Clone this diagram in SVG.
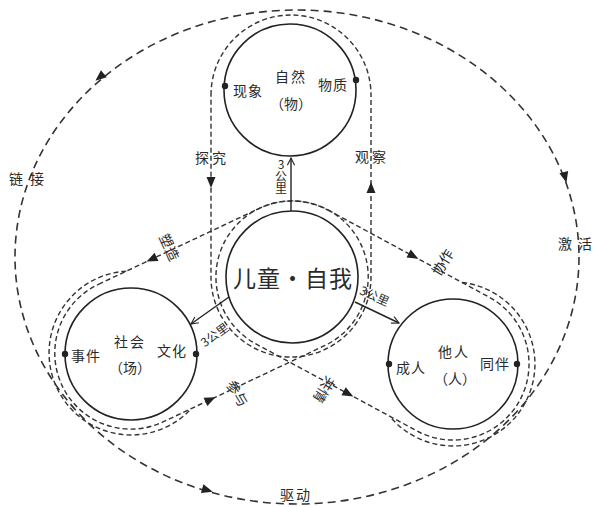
<svg xmlns="http://www.w3.org/2000/svg" width="600" height="507" viewBox="0 0 600 507">
<defs>
<style>
text{font-family:"Noto Sans CJK SC","Liberation Serif",serif;fill:#2a2a2a;}
.circ{fill:none;stroke:#222;stroke-width:1.6;}
.dash{fill:none;stroke:#333;stroke-width:1.4;stroke-dasharray:5 3;}
.outer{fill:none;stroke:#333;stroke-width:1.6;stroke-dasharray:8 5;}
.arrl{fill:none;stroke:#222;stroke-width:1.4;marker-end:url(#open);}
.lbl{font-size:14px;}
.in{font-size:14px;}
.km{font-size:12px;}
.dot{fill:#222;}
</style>
<marker id="open" viewBox="0 0 10 10" refX="9" refY="5" markerWidth="9" markerHeight="9" markerUnits="userSpaceOnUse" orient="auto">
<path d="M1,1 L9,5 L1,9" fill="none" stroke="#222" stroke-width="1.2"/>
</marker>
<path id="tri" d="M6,0 L-5,-4.5 L-5,4.5 Z" fill="#222"/>
</defs>
<rect width="600" height="507" fill="#fff"/>

<g id="connectors">
<ellipse class="outer" cx="297" cy="257" rx="282" ry="247"/>
<path class="dash" d="M211,95 A80,80 0 0 1 371,95 L371,277 A80,80 0 0 1 211,277 Z"/>
<path class="dash" d="M98.5,284.3 L259.5,208.3 A76,76 0 1 1 324.5,345.7 L163.5,421.7 A76,76 0 1 1 98.5,284.3 Z"/>
<path class="dash" d="M126.3,271.1 A82,82 0 1 0 191.3,408.6"/>
<path class="dash" d="M328.1,210.1 L489.1,297.1 A76,76 0 1 1 416.9,430.9 L255.9,343.9 A76,76 0 1 1 328.1,210.1 Z"/>
<path class="dash" d="M462.1,282.5 A82,82 0 1 1 389.8,416.3"/>
<use href="#tri" transform="translate(211,182) rotate(90)"/>
<use href="#tri" transform="translate(371,188) rotate(-90)"/>
<use href="#tri" transform="translate(152,259) rotate(154.7)"/>
<use href="#tri" transform="translate(210,399.7) rotate(-25.3)"/>
<use href="#tri" transform="translate(413,255.9) rotate(28.4)"/>
<use href="#tri" transform="translate(348,393.6) rotate(28.4)"/>
<use href="#tri" transform="translate(100,77) rotate(140)"/>
<use href="#tri" transform="translate(207,490) rotate(16.5)"/>
<use href="#tri" transform="translate(565,177) rotate(76)"/>
<line class="arrl" x1="291" y1="211" x2="291" y2="158"/>
<line class="arrl" x1="229" y1="297" x2="191" y2="324"/>
<line class="arrl" x1="355" y1="302" x2="399" y2="323"/>
<text class="km" x="281" y="158" style="writing-mode:vertical-rl;text-orientation:upright">3公里</text>
<text class="km" text-anchor="middle" dominant-baseline="central" transform="translate(214,334) rotate(-36)">3公里</text>
<text class="km" text-anchor="middle" dominant-baseline="central" transform="translate(375,295) rotate(24)">3公里</text>
<text class="lbl" text-anchor="middle" dominant-baseline="central" x="212" y="157" letter-spacing="3">探究</text>
<text class="lbl" text-anchor="middle" dominant-baseline="central" x="372" y="156" letter-spacing="3">观察</text>
<text class="lbl" text-anchor="middle" dominant-baseline="central" x="30" y="178" letter-spacing="7">链接</text>
<text class="lbl" text-anchor="middle" dominant-baseline="central" x="578" y="243" letter-spacing="6">激活</text>
<text class="lbl" text-anchor="middle" dominant-baseline="central" x="296" y="494" letter-spacing="2">驱动</text>
<text class="lbl" text-anchor="middle" dominant-baseline="central" transform="translate(170,247) rotate(65)">塑造</text>
<text class="lbl" text-anchor="middle" dominant-baseline="central" transform="translate(238,393) rotate(59)">参与</text>
<text class="lbl" text-anchor="middle" dominant-baseline="central" transform="translate(442,262) rotate(-58)">协作</text>
<text class="lbl" text-anchor="middle" dominant-baseline="central" transform="translate(325,390) rotate(122)">共情</text>
</g>

<g id="node-center">
<circle class="circ" cx="292" cy="277" r="66"/>
<text text-anchor="middle" dominant-baseline="central" x="293" y="277" font-size="23" letter-spacing="1">儿童·自我</text>
</g>

<g id="node-nature">
<circle class="circ" cx="290" cy="90" r="66"/>
<circle class="dot" cx="225" cy="86" r="3.2"/>
<circle class="dot" cx="356" cy="80" r="3.2"/>
<text class="in" text-anchor="middle" dominant-baseline="central" x="291" y="76" letter-spacing="2">自然</text>
<text class="in" text-anchor="middle" dominant-baseline="central" x="291" y="103">（物）</text>
<text class="in" text-anchor="middle" dominant-baseline="central" x="248" y="90" letter-spacing="1">现象</text>
<text class="in" text-anchor="middle" dominant-baseline="central" x="333" y="84" letter-spacing="1">物质</text>
</g>

<g id="node-society">
<circle class="circ" cx="131" cy="354" r="66"/>
<circle class="dot" cx="65" cy="354" r="3.2"/>
<circle class="dot" cx="196" cy="354" r="3.2"/>
<text class="in" text-anchor="middle" dominant-baseline="central" x="130" y="341" letter-spacing="2">社会</text>
<text class="in" text-anchor="middle" dominant-baseline="central" x="130" y="367">（场）</text>
<text class="in" text-anchor="middle" dominant-baseline="central" x="86" y="355" letter-spacing="1">事件</text>
<text class="in" text-anchor="middle" dominant-baseline="central" x="172" y="350" letter-spacing="1">文化</text>
</g>

<g id="node-others">
<circle class="circ" cx="453" cy="364" r="65"/>
<circle class="dot" cx="389" cy="364" r="3.2"/>
<circle class="dot" cx="517" cy="364" r="3.2"/>
<text class="in" text-anchor="middle" dominant-baseline="central" x="454" y="351" letter-spacing="2">他人</text>
<text class="in" text-anchor="middle" dominant-baseline="central" x="455" y="378">（人）</text>
<text class="in" text-anchor="middle" dominant-baseline="central" x="411" y="367" letter-spacing="1">成人</text>
<text class="in" text-anchor="middle" dominant-baseline="central" x="495" y="363" letter-spacing="1">同伴</text>
</g>
</svg>
